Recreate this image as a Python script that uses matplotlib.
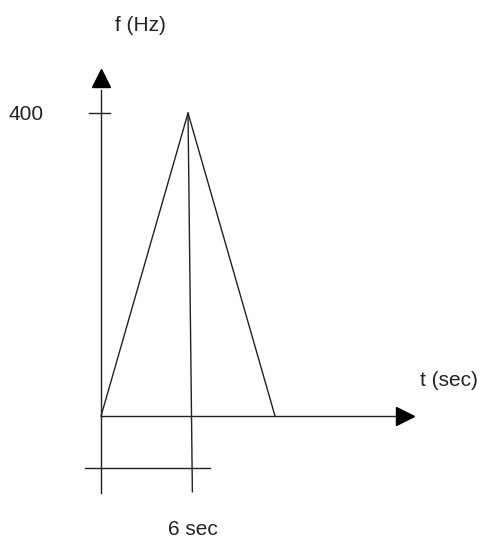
import numpy as np
import matplotlib.pyplot as plt

# frequency sweep: linear up to 400 Hz at 6 s, back down to 0 at 12 s
t = [0, 6, 12]
f = [0, 400, 0]
t_peak = 6
f_peak = 400

plt.rcParams['font.family'] = ['Liberation Sans', 'DejaVu Sans']

fig = plt.figure(figsize=(4.8, 5.42), dpi=100)
ax = fig.add_axes([0, 0, 1, 1])
ax.set_xlim(-6.97, 26.14)
ax.set_ylim(-166.3, 549.2)
ax.axis('off')

lc = '#222222'
lw = 1.0

# axes with arrow heads
ax.plot([0, 0], [-102, 430], color=lc, lw=lw)
ax.plot([0], [446], marker='^', ms=13, color='black', mec='black')
ax.plot([0, 20.5], [0, 0], color=lc, lw=lw)
ax.plot([21.0], [0], marker='>', ms=13, color='black', mec='black')

# triangle
ax.plot(t, f, color=lc, lw=lw)

# vertical from the peak down past the axis
ax.plot([t_peak, t_peak + 0.3], [f_peak, -100], color=lc, lw=lw)

# 400 tick
ax.plot([-0.8, 0.6], [f_peak, f_peak], color=lc, lw=lw)

# dimension line for 6 sec
ax.plot([-1.1, 7.5], [-69, -69], color=lc, lw=lw)

fs = 15
ax.text(-5.14, f_peak - 2, '400', fontsize=fs, ha='center', va='center', color='#222222')
ax.text(2.69, 516, 'f (Hz)', fontsize=fs, ha='center', va='center', color='#222222')
ax.text(24.0, 47, 't (sec)', fontsize=fs, ha='center', va='center', color='#222222')
ax.text(6.34, -150, '6 sec', fontsize=fs, ha='center', va='center', color='#222222')

fig.savefig('out.png', dpi=100, facecolor='white')
